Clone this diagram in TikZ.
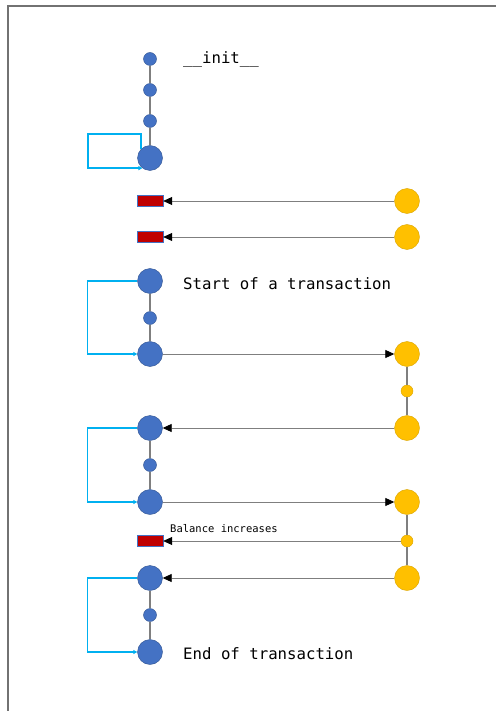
\documentclass[tikz,border=0pt]{standalone}
\usepackage{fontspec}
\setmonofont{DejaVu Sans Mono}
\usetikzlibrary{arrows.meta}

\definecolor{dotblue}{HTML}{4472C4}
\definecolor{dotedge}{HTML}{2F528F}
\definecolor{coin}{HTML}{FFC000}
\definecolor{coinedge}{HTML}{D9A400}
\definecolor{event}{HTML}{C00000}
\definecolor{loopcyan}{HTML}{00B0F0}
\definecolor{wire}{HTML}{7F7F7F}

\tikzset{
	big/.style = {circle, draw=dotedge, fill=dotblue, minimum size=25pt, inner sep=0pt},
	small/.style = {circle, draw=dotedge, fill=dotblue, minimum size=13pt, inner sep=0pt},
	ybig/.style = {circle, draw=coinedge, fill=coin, minimum size=25pt, inner sep=0pt},
	ysmall/.style = {circle, draw=coinedge, fill=coin, minimum size=12pt, inner sep=0pt},
	evt/.style = {rectangle, draw=dotblue, fill=event, minimum width=26pt, minimum height=11pt, inner sep=0pt},
	stem/.style = {draw=wire, line width=1.8pt},
	call/.style = {draw=wire, line width=0.8pt, -{Triangle[length=9pt, width=8pt, color=black]}},
	loopback/.style = {draw=loopcyan, line width=1.6pt, -{Triangle[length=4pt, width=4pt]}},
	note/.style = {font=\ttfamily\fontsize{15.7}{18}\selectfont, anchor=base west, inner sep=0pt},
	smallnote/.style = {font=\ttfamily\fontsize{10.5}{12}\selectfont, anchor=base west, inner sep=0pt},
}

\begin{document}
\begin{tikzpicture}[x=1pt, y=-1pt]
		
		\useasboundingbox (0, 0) rectangle (496, 711);
		\draw[wire!90!black, line width=2pt] (8, 711) -- (8, 6) -- (496, 6);
		
		% constructor
		\node[small] (b1) at (150, 59) {};
		\node[small] (b2) at (150, 90) {};
		\node[small] (b3) at (150, 121) {};
		\node[big] (b4) at (150, 158) {};
		\node[note] (init) at (183, 64) {\_\_init\_\_};
		
		\draw[stem] (b1) -- (b2);
		\draw[stem] (b2) -- (b3);
		\draw[stem] (b3) -- (b4);
		
		\coordinate (l1) at (88, 134);
		\draw[loopback] (b4.136) |- (l1) |- (b4.233);
		
		% events fired from outside
		\node[evt] (r1) at (150, 201) {};
		\node[evt] (r2) at (150, 237) {};
		\node[ybig] (y1) at (407, 201) {};
		\node[ybig] (y2) at (407, 237) {};
		
		\draw[call] (y1) -- (r1);
		\draw[call] (y2) -- (r2);
		
		% first call
		\node[big] (s1) at (150, 281) {};
		\node[small] (s2) at (150, 318) {};
		\node[big] (s3) at (150, 354) {};
		\node[note] (start) at (183, 289) {Start of a transaction};
		
		\draw[stem] (s1) -- (s2);
		\draw[stem] (s2) -- (s3);
		\draw[loopback] (s1.west) -- ++(-50, 0) |- (s3.west);
		
		\node[ybig] (y3) at (407, 354) {};
		\node[ysmall] (y4) at (407, 391) {};
		\node[ybig] (y5) at (407, 428) {};
		
		\draw[stem] (y3) -- (y4);
		\draw[stem] (y4) -- (y5);
		\draw[call] (s3) -- (y3);
		
		% reentry
		\node[big] (t1) at (150, 428) {};
		\node[small] (t2) at (150, 465) {};
		\node[big] (t3) at (150, 502) {};
		
		\draw[call] (y5) -- (t1);
		\draw[stem] (t1) -- (t2);
		\draw[stem] (t2) -- (t3);
		\draw[loopback] (t1.west) -- ++(-50, 0) |- (t3.west);
		
		\node[ybig] (y6) at (407, 502) {};
		\node[ysmall] (y7) at (407, 541) {};
		\node[ybig] (y8) at (407, 578) {};
		
		\draw[stem] (y6) -- (y7);
		\draw[stem] (y7) -- (y8);
		\draw[call] (t3) -- (y6);
		
		\node[evt] (r3) at (150, 541) {};
		\node[smallnote] (bal) at (170, 532) {Balance increases};
		\draw[call] (y7) -- (r3);
		
		% last call
		\node[big] (u1) at (150, 578) {};
		\node[small] (u2) at (150, 615) {};
		\node[big] (u3) at (150, 652) {};
		\node[note] (finish) at (183, 659) {End of transaction};
		
		\draw[call] (y8) -- (u1);
		\draw[stem] (u1) -- (u2);
		\draw[stem] (u2) -- (u3);
		\draw[loopback] (u1.west) -- ++(-50, 0) |- (u3.west);
		
\end{tikzpicture}
\end{document}
